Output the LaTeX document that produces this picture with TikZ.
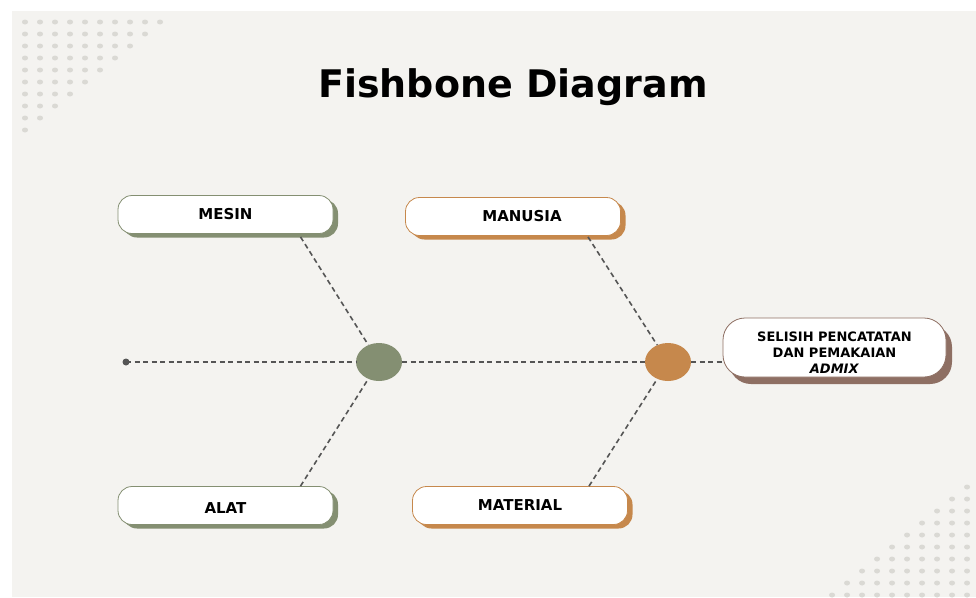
\documentclass[tikz,border=0pt]{standalone}
\usepackage{fontspec}
\setmainfont{DejaVu Sans}
\usepackage{xcolor}
\usetikzlibrary{calc, shadows, shapes.geometric}
\definecolor{panel}{HTML}{F4F3F0}
\definecolor{dotgray}{HTML}{DAD9D4}
\definecolor{bonegreen}{HTML}{848F72}
\definecolor{boneorange}{HTML}{C6884C}
\definecolor{headbrown}{HTML}{8E6F63}
\definecolor{spinegray}{HTML}{555555}

\begin{document}
\begin{tikzpicture}[x=1pt, y=-1pt,
  causebox/.style={draw=#1, line width=0.8pt, fill=white, rounded corners=14pt,
    minimum width=215pt, minimum height=38pt, inner sep=0pt,
    font=\bfseries\fontsize{15}{18}\selectfont,
    drop shadow={shadow xshift=5pt, shadow yshift=-4pt, fill=#1, opacity=1}},
  joint/.style={ellipse, fill=#1, minimum width=46pt, minimum height=38pt, inner sep=0pt},
  bone/.style={draw=spinegray, line width=1.6pt, dash pattern=on 5pt off 3.5pt}]
  \useasboundingbox (0,0) rectangle (976,597);
  \fill[white] (0,0) rectangle (976,597);
  \fill[panel] (12,11) rectangle (976,597);
  \foreach \r in {0,...,9} {
    \pgfmathtruncatemacro\n{9-\r}
    \foreach \c in {0,...,\n}
      \fill[dotgray] (25+15*\c, 22+12*\r) ellipse (3 and 2.5);
    \foreach \c in {0,...,\r}
      \fill[dotgray] (967-15*\c, 487+12*\r) ellipse (3 and 2.5);
  }
  \node[font=\bfseries\fontsize{38}{44}\selectfont, anchor=base] (judul) at (513,97) {Fishbone Diagram};

  \node[causebox=bonegreen] (mesin) at (225.5,214.5) {MESIN};
  \node[causebox=boneorange] (manusia) at (513,216.5) {\hspace*{18pt}MANUSIA};
  \node[causebox=bonegreen] (alat) at (225.5,505.5) {\rule{0pt}{16pt}ALAT};
  \node[causebox=boneorange] (material) at (520,505.5) {MATERIAL};
  \node[draw=headbrown, line width=0.8pt, fill=white, rounded corners=22pt,
    minimum width=223pt, minimum height=59pt, inner sep=0pt, align=center,
    font=\bfseries\fontsize{13}{16}\selectfont,
    drop shadow={shadow xshift=6pt, shadow yshift=-7pt, fill=headbrown, opacity=1}]
    (akibat) at (834.5,347.5) {\rule{0pt}{19pt}SELISIH PENCATATAN\\DAN PEMAKAIAN\\\textit{ADMIX}};

  \node[joint=bonegreen] (tulangA) at (379,362) {};
  \node[joint=boneorange] (tulangB) at (668,362) {};
  \fill[spinegray] (126,362) circle (3.5);
  \coordinate (ekor) at (126,362);

  \draw[bone] (ekor) -- (tulangA) -- (tulangB) -- (tulangB -| akibat.west);
  \draw[bone] ($(mesin.south)+(75,3)$) -- (tulangA);
  \draw[bone] ($(alat.north)+(75,0)$) -- (tulangA);
  \draw[bone] ($(manusia.south)+(75,1)$) -- (tulangB);
  \draw[bone] ($(material.north)+(69,0)$) -- (tulangB);
\end{tikzpicture}
\end{document}
